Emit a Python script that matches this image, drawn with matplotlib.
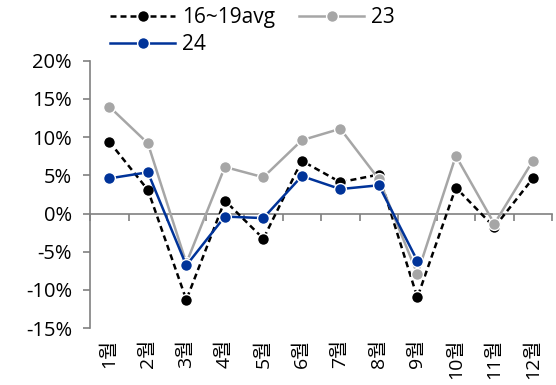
import numpy as np
import matplotlib
matplotlib.use("Agg")
import matplotlib.pyplot as plt
from matplotlib.ticker import FuncFormatter, FixedLocator

plt.rcParams['font.family'] = ['Open Sans', 'Noto Sans CJK KR', 'DejaVu Sans']

months = ["1월", "2월", "3월", "4월", "5월", "6월", "7월", "8월", "9월", "10월", "11월", "12월"]
avg_16_19 = [9.4, 3.1, -11.3, 1.7, -3.3, 6.9, 4.1, 5.1, -11.0, 3.4, -1.8, 4.6]
y23 = [14.0, 9.2, -6.5, 6.1, 4.75, 9.6, 11.1, 4.5, -7.9, 7.55, -1.35, 6.9]
y24 = [4.6, 5.4, -6.8, -0.4, -0.6, 4.9, 3.2, 3.7, -6.2]

fig = plt.figure(figsize=(5.56, 3.85), dpi=100)
ax = fig.add_axes([0.162, 0.148, 0.831, 0.694])

x = np.arange(1, 13)
mk = dict(marker='o', markersize=8.5, markeredgecolor='white', markeredgewidth=1.0)
l1, = ax.plot(x, avg_16_19, color='black', linestyle=(0, (2.4, 1.6)), linewidth=1.8, label='16~19avg', zorder=3, **mk)
l2, = ax.plot(x, y23, color='#a6a6a6', linewidth=1.8, label='23', zorder=4, **mk)
l3, = ax.plot(x[:len(y24)], y24, color='#003399', linewidth=1.8, label='24', zorder=5, **mk)

ax.set_xlim(0.5, 12.5)
ax.set_ylim(-15, 20)
ax.yaxis.set_major_locator(FixedLocator(np.arange(-15, 21, 5)))
ax.yaxis.set_major_formatter(FuncFormatter(lambda v, p: f"{v:.0f}%"))

for s in ['top', 'right']:
    ax.spines[s].set_visible(False)
ax.spines['left'].set_color('#808080')
ax.spines['left'].set_linewidth(1.2)
ax.spines['bottom'].set_position(('data', 0))
ax.spines['bottom'].set_color('#808080')
ax.spines['bottom'].set_linewidth(1.2)

# boundary ticks on the zero line, month names along the bottom
ax.set_xticks(np.arange(0.5, 13, 1))
ax.tick_params(axis='x', direction='out', length=5, width=1.2, color='#808080', labelbottom=False)
ax.tick_params(axis='y', direction='out', length=5, width=1.2, color='#808080', labelsize=14.5, pad=8)

sec = ax.secondary_xaxis('bottom')
sec.set_xticks(x)
sec.set_xticklabels(months, rotation=90, fontsize=14)
sec.tick_params(length=0, pad=8)
sec.spines['bottom'].set_visible(False)

fig.legend([l1, l3, l2], ['16~19avg', '24', '23'], ncol=2, loc='upper left',
           bbox_to_anchor=(0.165, 1.03), frameon=False, fontsize=15,
           handlelength=3.1, columnspacing=1.15, labelspacing=0.3, handletextpad=0.35)

fig.savefig("out.png", dpi=100)
